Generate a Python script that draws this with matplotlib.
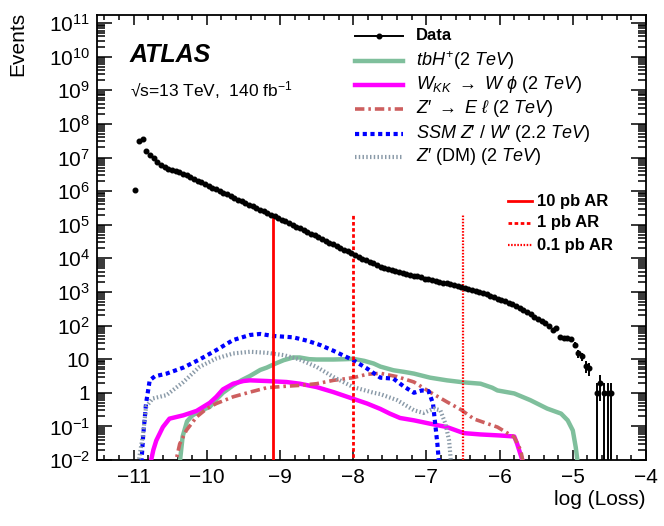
import numpy as np
import matplotlib
matplotlib.use("Agg")
import matplotlib.pyplot as plt
from matplotlib.lines import Line2D
from matplotlib.ticker import FixedLocator, LogLocator, FuncFormatter, NullFormatter

plt.rcParams['font.family'] = ['Liberation Sans', 'DejaVu Sans']
plt.rcParams['mathtext.fontset'] = 'custom'
plt.rcParams['mathtext.rm'] = 'Liberation Sans'
plt.rcParams['mathtext.it'] = 'Liberation Sans:italic'
plt.rcParams['mathtext.bf'] = 'Liberation Sans:bold'

# data: bin centres (width 0.05) and log10(events)
data_x0 = -10.975
data_bw = 0.05
data_log = [6.04, 7.50, 7.54, 7.18, 7.08, 6.98, 6.87, 6.79, 6.71, 6.66,
            6.64, 6.61, 6.57, 6.52, 6.47, 6.42, 6.36, 6.31, 6.26, 6.21,
            6.15, 6.10, 6.05, 6.00, 5.95, 5.90, 5.85, 5.80, 5.75, 5.70,
            5.65, 5.60, 5.55, 5.50, 5.45, 5.40, 5.35, 5.30, 5.25, 5.20,
            5.15, 5.10, 5.05, 4.99, 4.94, 4.89, 4.84, 4.79, 4.73, 4.68,
            4.63, 4.58, 4.53, 4.47, 4.42, 4.37, 4.32, 4.26, 4.21, 4.16,
            4.09, 4.04, 3.99, 3.94, 3.89, 3.85, 3.80, 3.75, 3.71, 3.68,
            3.65, 3.62, 3.59, 3.56, 3.53, 3.51, 3.48, 3.46, 3.43, 3.40,
            3.38, 3.35, 3.33, 3.30, 3.28, 3.26, 3.23, 3.21, 3.18, 3.16,
            3.13, 3.09, 3.06, 3.02, 3.00, 2.97, 2.94, 2.89, 2.86, 2.80,
            2.76, 2.72, 2.67, 2.63, 2.58, 2.52, 2.46, 2.40, 2.34, 2.26,
            2.20, 2.15, 2.09, 1.98, 1.86, 1.92, 1.65, 1.64, 1.63, 1.60,
            1.42, 1.17, 1.08, 0.80, 0.74, None, 0.0, 0.301, 0.0, 0.0,
            0.0]

# signal shapes (x, log10 events)
tbh_x = [-10.38, -10.33, -10.27, -10.2, -10.1, -9.96, -9.87, -9.78, -9.64, -9.52,
         -9.41, -9.27, -9.18, -9.05, -8.95, -8.82, -8.73, -8.6, -8.5, -8.27,
         -8.1, -8.0, -7.85, -7.72, -7.63, -7.45, -7.3, -7.17, -6.95, -6.72,
         -6.49, -6.26, -6.1, -6.03, -5.8, -5.58, -5.35, -5.16, -5.07, -5.0,
         -4.96, -4.92]
tbh_log = [-2.3, -1.3, -0.85, -0.68, -0.55, -0.42, -0.2, 0.0, 0.22, 0.38,
           0.5, 0.68, 0.75, 0.88, 0.97, 1.05, 1.05, 1.0, 0.99, 0.99,
           1.0, 1.01, 0.95, 0.87, 0.78, 0.67, 0.62, 0.57, 0.45, 0.37,
           0.31, 0.27, 0.15, 0.07, -0.02, -0.22, -0.47, -0.62, -0.82, -1.12,
           -1.62, -2.3]

wkk_x = [-10.79, -10.73, -10.69, -10.6, -10.51, -10.32, -10.14, -10.05, -9.96, -9.87,
         -9.78, -9.64, -9.5, -9.41, -9.18, -8.91, -8.73, -8.5, -8.27, -8.04,
         -7.81, -7.63, -7.5, -7.36, -7.17, -6.95, -6.72, -6.49, -6.26, -6.0,
         -5.8, -5.76, -5.69, -5.66]
wkk_log = [-2.3, -1.7, -1.42, -1.02, -0.77, -0.67, -0.54, -0.42, -0.3, -0.12,
           0.1, 0.27, 0.35, 0.37, 0.35, 0.32, 0.27, 0.17, 0.02, -0.15,
           -0.32, -0.48, -0.62, -0.75, -0.82, -0.92, -1.02, -1.2, -1.24, -1.27,
           -1.3, -1.52, -2.0, -2.3]

zel_x = [-10.45, -10.37, -10.28, -10.14, -10.0, -9.87, -9.64, -9.41, -9.18, -8.95,
         -8.73, -8.5, -8.27, -8.0, -7.81, -7.63, -7.4, -7.17, -6.95, -6.72,
         -6.53, -6.35, -6.03, -5.8, -5.71, -5.66]
zel_log = [-2.3, -1.52, -1.12, -0.72, -0.47, -0.32, -0.12, 0.02, 0.15, 0.19,
           0.22, 0.27, 0.37, 0.45, 0.55, 0.58, 0.48, 0.32, 0.02, -0.27,
           -0.5, -0.78, -1.02, -1.32, -1.72, -2.3]

ssm_x = [-10.9, -10.87, -10.83, -10.78, -10.71, -10.55, -10.32, -10.1, -9.87, -9.64,
         -9.41, -9.27, -9.09, -8.82, -8.63, -8.45, -8.27, -8.0, -7.81, -7.63,
         -7.45, -7.31, -7.17, -7.06, -6.97, -6.91, -6.88, -6.85, -6.82]
ssm_log = [-2.3, -1.3, -0.32, 0.37, 0.49, 0.57, 0.75, 0.99, 1.27, 1.57,
           1.72, 1.75, 1.69, 1.65, 1.55, 1.42, 1.25, 0.97, 0.72, 0.45,
           0.42, 0.19, 0.0, 0.07, 0.05, -0.32, -0.92, -1.52, -2.3]

dm_x = [-10.95, -10.87, -10.83, -10.74, -10.55, -10.32, -10.1, -9.87, -9.64, -9.41,
        -9.18, -8.95, -8.73, -8.5, -8.27, -8.0, -7.72, -7.63, -7.4, -7.17,
        -7.04, -6.9, -6.81, -6.74, -6.69, -6.67, -6.66]
dm_log = [-2.3, -1.22, -0.42, -0.17, -0.07, 0.32, 0.77, 1.02, 1.17, 1.22,
          1.19, 1.12, 0.99, 0.77, 0.47, 0.17, 0.0, -0.04, -0.22, -0.52,
          -0.6, -0.47, -0.52, -0.92, -1.42, -1.92, -2.3]

# anomaly regions: position in log(Loss) and top of the line
ar_labels = ['10 pb AR', '1 pb AR', '0.1 pb AR']
ar_x = [-9.1, -8.0, -6.5]
ar_top = 2e5

signals = [
    (r'$tbH^{+}$(2 $TeV$)', tbh_x, tbh_log, '#7fbf9c', '-', 3.2),
    (r'$W_{KK}\ \rightarrow\ W\ \phi$ (2 $TeV$)', wkk_x, wkk_log, '#ff00ff', '-', 3.2),
    ("$Z\u2032\\ \\rightarrow\\ E\\ \\ell$ (2 $TeV$)", zel_x, zel_log, '#cd5f5f',
     (0, (2.6, 1.1, 0.7, 1.1)), 2.6),
    ("$SSM\\ Z\u2032\\ /\\ W\u2032$ (2.2 $TeV$)", ssm_x, ssm_log, '#0000ff', (0, (1, 0.85)), 3.0),
    ("$Z\u2032$ (DM) (2 $TeV$)", dm_x, dm_log, '#8a9aa8', (0, (0.35, 0.55)), 3.0),
]
ar_styles = ['-', (0, (1.3, 0.9)), (0, (0.7, 0.7))]
ar_widths = [2.0, 2.0, 1.6]

fig = plt.figure(figsize=(6.64, 5.26), dpi=100)
ax = fig.add_axes([97/664, 1-460/526, 549/664, 445/526])

for lab, xs, ls_, col, sty, lw in signals:
    ax.plot(xs, 10.0 ** np.array(ls_), color=col, linestyle=sty, lw=lw, zorder=3)

# data with sqrt(N) errors
dx, dy = [], []
for i, v in enumerate(data_log):
    if v is None:
        continue
    dx.append(data_x0 + i * data_bw)
    dy.append(10.0 ** v)
dx = np.array(dx)
dy = np.array(dy)
err = np.sqrt(dy)
lo = dy - np.maximum(dy - err, 1e-4)
ax.errorbar(dx, dy, yerr=[lo, err], fmt='o', color='black', ms=3.3, lw=1.4,
            capsize=0, zorder=5)

for xv, sty, lw in zip(ar_x, ar_styles, ar_widths):
    ax.plot([xv, xv], [1e-3, ar_top], color='#ff0000', linestyle=sty, lw=lw, zorder=4)

ax.set_xlim(-11.5, -4)
ax.set_yscale('log')
ax.set_ylim(1e-2, 10 ** 11.24)

ax.xaxis.set_major_locator(FixedLocator([-11, -10, -9, -8, -7, -6, -5, -4]))
ax.xaxis.set_minor_locator(FixedLocator(np.arange(-11.4, -4.0, 0.2)))
ax.yaxis.set_major_locator(LogLocator(base=10, numticks=20))
ax.yaxis.set_minor_locator(LogLocator(base=10, subs=np.arange(2, 10), numticks=20))
ax.yaxis.set_minor_formatter(NullFormatter())


def ylab(v, pos):
    e = int(round(np.log10(v)))
    if e == 0:
        return '1'
    if e == 1:
        return '10'
    return r'$10^{%d}$' % e


ax.yaxis.set_major_formatter(FuncFormatter(ylab))
ax.tick_params(axis='both', which='both', direction='in', top=True, right=True,
               labelsize=15, width=1.1)
ax.tick_params(axis='x', which='major', length=7.5, pad=6)
ax.tick_params(axis='x', which='minor', length=3.8)
ax.tick_params(axis='y', which='major', length=11, pad=5)
ax.tick_params(axis='y', which='minor', length=5.5)
for s in ax.spines.values():
    s.set_linewidth(1.3)

fig.text(646/664, 1-505/526, 'log (Loss)', ha='right', va='baseline', fontsize=15)
fig.text(18/664, 1-12/526, 'Events', rotation=90, ha='center', va='top', fontsize=15)

# ATLAS label
ax.text(0.06, 0.894, 'ATLAS', transform=ax.transAxes, fontsize=18,
        fontweight='bold', fontstyle='italic', va='baseline')
ax.text(0.06, 0.816, '\u221as=13 TeV,  140 fb$^{-1}$', transform=ax.transAxes,
        fontsize=12.5, va='baseline')


def legend_row(y, handle, label, x0, x1, xt, **kw):
    ax.add_line(Line2D([x0, x1], [y, y], transform=ax.transAxes, **handle))
    ax.text(xt, y, label, transform=ax.transAxes, va='center', ha='left', **kw)


rows = [0.953, 0.897, 0.843, 0.789, 0.733, 0.681]
legend_row(rows[0], dict(color='black', lw=1.4), 'Data', 0.470, 0.557, 0.581,
           fontsize=12, fontweight='bold')
ax.add_line(Line2D([0.5135], [rows[0]], transform=ax.transAxes, marker='o',
                   color='black', ms=3.3))
for r, (lab, xs, ls_, col, sty, lw) in zip(rows[1:], signals):
    legend_row(r, dict(color=col, linestyle=sty, lw=lw), lab, 0.470, 0.557, 0.581,
               fontsize=13)

rows2 = [0.582, 0.533, 0.483]
for r, lab, sty, lw in zip(rows2, ar_labels, ar_styles, ar_widths):
    legend_row(r, dict(color='#ff0000', linestyle=sty, lw=lw), lab, 0.749, 0.792, 0.801,
               fontsize=12, fontweight='bold')

fig.savefig('out.png', dpi=100)
